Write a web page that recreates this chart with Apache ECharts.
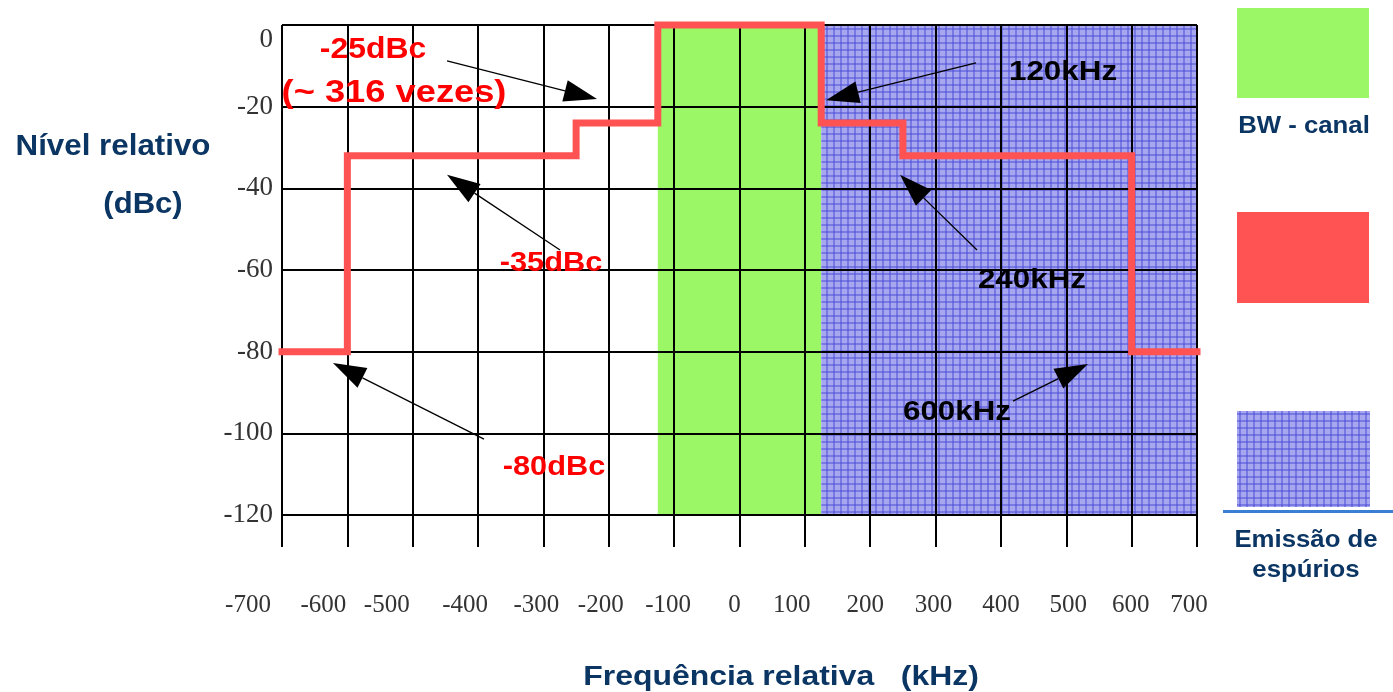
<!DOCTYPE html>
<html><head><meta charset="utf-8">
<script src="https://cdn.jsdelivr.net/npm/echarts@6/dist/echarts.min.js"></script>
<style>html,body{margin:0;padding:0;background:#fff}#c{width:1393px;height:692px}</style>
</head><body><div id="c"></div>
<script>
// ---- data ----
const xTicks = [-700,-600,-500,-400,-300,-200,-100,0,100,200,300,400,500,600,700];
const yTicks = [0,-20,-40,-60,-80,-100,-120];
const maskFreq  = [-700,-600,-600,-250,-250,-125,-125,125,125,250,250,600,600,700];
const maskLevel = [-80,-80,-32,-32,-24,-24,0,0,-24,-24,-32,-32,-80,-80];
const channelBand  = [-125,125];
const spuriousBand = [125,700];
const noteTexts  = ['-25dBc','(~ 316 vezes)','-35dBc','-80dBc','120kHz','240kHz','600kHz'];
const legendTexts = ['BW - canal','Emissão de','espúrios'];
const axisTitles = ['Nível relativo','(dBc)','Frequência relativa   (kHz)'];

// ---- styles / positions ----
const NAVY = '#0b3563', RED = '#ff5353', GREEN = '#9bf766';
// horizontal nudges (px) of x tick labels, as placed in the original picture
const xLabelShift = [-34,-24,-26,-13,-7,-8,-6,-5,-13,-5,-2,0,2,-1,-8];
function makePattern(){
  const c = document.createElement('canvas'); c.width = 7; c.height = 7;
  const g = c.getContext('2d');
  g.fillStyle = '#a7a7ef'; g.fillRect(0,0,7,7);
  g.fillStyle = 'rgba(75,75,215,0.5)';
  g.fillRect(0,0,7,2); g.fillRect(0,0,2,7);
  return c;
}
const pat = makePattern();
const patColor = {image: pat, repeat: 'repeat'};

const xRich = {};
xLabelShift.forEach((d,i)=>{
  xRich['s'+i] = {fontFamily:'Liberation Serif', fontSize:25, color:'#333',
    padding:[0, d<0 ? -2*d : 0, 0, d>0 ? 2*d : 0]};
});
const yRich = {
  n: {fontFamily:'Liberation Serif', fontSize:27, color:'#333'},
  t: {fontFamily:'Liberation Serif', fontSize:27, color:'#333', padding:[30,0,0,0]}
};

const chart = echarts.init(document.getElementById('c'), null, {renderer:'canvas'});
const lineData = maskFreq.map((f,i)=>[f, maskLevel[i]]);

chart.setOption({
  animation: false,
  grid: {left: 282, right: 196, top: 25, bottom: 177, show: false},
  xAxis: {
    type: 'value', min: xTicks[0], max: xTicks[xTicks.length-1], interval: 100, z: 3,
    axisLine: {show: true, onZero: false, lineStyle: {color: '#000', width: 2}},
    axisTick: {show: true, length: 32, lineStyle: {color: '#000', width: 2}},
    splitLine: {show: true, lineStyle: {color: '#000', width: 2}},
    axisLabel: {margin: 78, color: '#333', fontFamily: 'Liberation Serif', fontSize: 25, rich: xRich,
      formatter: v => { const i = xTicks.indexOf(v); return i < 0 ? '' : '{s'+i+'|'+v+'}'; }}
  },
  yAxis: {
    type: 'value', min: yTicks[yTicks.length-1], max: yTicks[0], interval: 20, z: 3,
    axisLine: {show: true, lineStyle: {color: '#000', width: 2}},
    axisTick: {show: false},
    splitLine: {show: true, lineStyle: {color: '#000', width: 2}},
    axisLabel: {margin: 9, color: '#333', fontFamily: 'Liberation Serif', fontSize: 27, rich: yRich,
      formatter: v => !yTicks.includes(v) ? '' : (v === yTicks[0] ? '{t|'+v+'}' : '{n|'+v+'}')}
  },
  series: [
    {
      type: 'line', data: [], z: 1, silent: true,
      markArea: {
        silent: true,
        data: [
          [{xAxis: channelBand[0], itemStyle: {color: GREEN}}, {xAxis: channelBand[1]}],
          [{xAxis: spuriousBand[0], itemStyle: {color: patColor}}, {xAxis: spuriousBand[1]}]
        ]
      }
    },
    {
      type: 'line', data: lineData, z: 5, symbol: 'none', clip: false,
      lineStyle: {color: RED, width: 7, join: 'miter', cap: 'square'}
    }
  ]
});

// ---- annotations (data coords) ----
const notePos = [
  {p:[-560.8,-6.1],  c:'#ff0000', s:29, k:1.1},
  {p:[-528.6,-16.65],c:'#ff0000', s:31, k:1.17},
  {p:[-288.4,-58.3], c:'#ff0000', s:27, k:1.14},
  {p:[-283.8,-108.5],c:'#ff0000', s:27, k:1.14},
  {p:[495,-11.5],    c:'#000000', s:28, k:1.12},
  {p:[447.5,-62.45], c:'#000000', s:28, k:1.12},
  {p:[332.8,-94.8],  c:'#000000', s:28, k:1.12}
];
const arrows = [
  [[-447.5,-8.8],[-218,-18.1]],
  [[361.9,-9.3],[132.4,-18.4]],
  [[-274.6,-55.1],[-447.5,-36.7]],
  [[363.4,-55.1],[245.6,-36.7]],
  [[-390.9,-101.4],[-622,-82.8]],
  [[418.5,-92.1],[533.2,-83.0]]
];

function txt(t, x, y, color, size, k){
  return {type:'text', x:x, y:y, scaleX:k, z:20,
    style:{text:t, x:0, y:0, fill:color, font:'bold '+size+'px "Liberation Sans", Arial, sans-serif',
      align:'center', verticalAlign:'middle', textAlign:'center', textVerticalAlign:'middle'}};
}

const g = [];
const toPx = p => chart.convertToPixel({gridIndex:0}, p);
arrows.forEach(a=>{
  const t = toPx(a[0]), h = toPx(a[1]);
  const dx = h[0]-t[0], dy = h[1]-t[1], L = Math.hypot(dx,dy);
  const ux = dx/L, uy = dy/L, len = 33, hw = 11;
  const bx = h[0]-ux*len, by = h[1]-uy*len;
  g.push({type:'line', z:19, shape:{x1:t[0],y1:t[1],x2:bx,y2:by}, style:{stroke:'#000', lineWidth:1.3}});
  g.push({type:'polygon', z:19, shape:{points:[[h[0],h[1]],[bx-uy*hw,by+ux*hw],[bx+uy*hw,by-ux*hw]]}, style:{fill:'#000'}});
});
noteTexts.forEach((t,i)=>{
  const q = toPx(notePos[i].p);
  g.push(txt(t, q[0], q[1], notePos[i].c, notePos[i].s, notePos[i].k));
});
// axis titles
g.push(txt(axisTitles[0], 113, 147, NAVY, 29, 1.08));
g.push(txt(axisTitles[1], 143, 205, NAVY, 29, 1.07));
g.push(txt(axisTitles[2], 781, 677, NAVY, 28, 1.14));
// legend
g.push({type:'rect', shape:{x:1237,y:8,width:132,height:90}, style:{fill:GREEN}});
g.push(txt(legendTexts[0], 1304, 127, NAVY, 23, 1.12));
g.push({type:'rect', shape:{x:1237,y:212,width:132,height:91}, style:{fill:RED}});
g.push({type:'rect', shape:{x:1237,y:411,width:133,height:96}, style:{fill:{image:pat, repeat:'repeat'}}});
g.push({type:'rect', shape:{x:1223,y:510,width:170,height:3}, style:{fill:'#3a7fd4'}});
g.push(txt(legendTexts[1], 1306, 541, NAVY, 23, 1.12));
g.push(txt(legendTexts[2], 1306, 571, NAVY, 23, 1.12));

chart.setOption({graphic: g});
</script>
</body></html>
